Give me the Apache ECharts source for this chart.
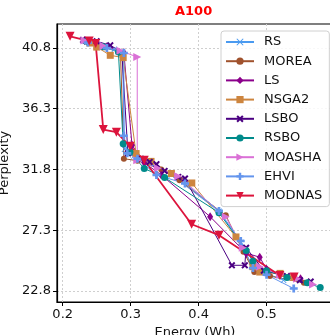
<!DOCTYPE html>
<html><head><meta charset="utf-8">
<script src="https://cdn.jsdelivr.net/npm/echarts@6/dist/echarts.min.js"></script>
<style>html,body{margin:0;padding:0;background:#fff}#c{width:330px;height:335px}</style>
</head><body><div id="c"></div>
<script>
const xTicks = [0.2, 0.3, 0.4, 0.5];
const yTicks = [22.8, 27.3, 31.8, 36.3, 40.8];

const RS = [[0.233,41.3],[0.252,41.0],[0.276,40.7],[0.288,40.4],[0.291,33.3],[0.305,32.8],[0.33,32.2],[0.36,31.4],[0.43,28.7],[0.462,26.4],[0.478,24.6],[0.5,24.1],[0.525,23.6]];
const MOREA = [[0.238,41.25],[0.262,40.85],[0.285,40.45],[0.29,32.6],[0.31,32.45],[0.345,31.8],[0.372,31.0],[0.44,28.4],[0.466,25.7],[0.482,24.2],[0.505,23.9],[0.555,23.4]];
const LS = [[0.232,41.35],[0.265,40.9],[0.29,40.45],[0.302,33.6],[0.32,32.3],[0.345,31.4],[0.417,28.3],[0.47,25.6],[0.49,25.3],[0.5,24.4],[0.52,24.0],[0.55,23.7]];
const NSGA2 = [[0.24,41.17],[0.25,40.87],[0.27,40.26],[0.289,40.09],[0.308,32.98],[0.33,32.4],[0.36,31.5],[0.39,30.8],[0.455,26.8],[0.48,24.6],[0.49,24.2],[0.52,24.1],[0.54,23.8]];
const LSBO = [[0.23,41.4],[0.25,41.3],[0.27,41.0],[0.287,40.5],[0.296,33.0],[0.315,32.6],[0.328,32.36],[0.338,32.19],[0.35,31.69],[0.37,31.25],[0.38,31.13],[0.449,24.7],[0.468,24.7],[0.47,26.0],[0.496,24.3],[0.53,23.9],[0.549,23.6],[0.565,23.5]];
const RSBO = [[0.235,41.3],[0.26,40.9],[0.282,40.5],[0.289,33.7],[0.299,33.1],[0.32,31.87],[0.35,31.2],[0.43,28.6],[0.47,25.8],[0.48,25.0],[0.5,24.3],[0.53,23.8],[0.56,23.4],[0.579,23.05]];
const MOASHA = [[0.232,41.35],[0.26,40.95],[0.285,40.6],[0.3097,40.13],[0.3097,32.48],[0.34,31.9],[0.37,31.3],[0.44,28.3],[0.465,26.0],[0.49,24.6],[0.52,24.0],[0.545,23.7],[0.5685,23.27]];
const EHVI = [[0.237,41.2],[0.265,40.8],[0.29,40.43],[0.29,34.3],[0.295,33.0],[0.31,32.6],[0.338,31.4],[0.38,30.76],[0.43,28.73],[0.462,26.5],[0.48,24.5],[0.5,24.0],[0.54,22.98]];
const MODNAS = [[0.2108,41.67],[0.239,41.32],[0.2485,41.13],[0.2597,34.76],[0.279,34.56],[0.299,33.52],[0.32,32.48],[0.3897,27.74],[0.43,26.93],[0.5196,23.95],[0.5406,23.84]];

const X_PATH = 'path://M1,0L5,4L9,0L10,1L6,5L10,9L9,10L5,6L1,10L0,9L4,5L0,1Z';
const XF_PATH = 'path://M2,0L5,3L8,0L10,2L7,5L10,8L8,10L5,7L2,10L0,8L3,5L0,2Z';
const TRI_R = 'path://M0,0L10,5L0,10Z';
const TRI_D = 'path://M0,0L10,0L5,10Z';
const PLUS = 'path://M3.3,0H6.7V3.3H10V6.7H6.7V10H3.3V6.7H0V3.3H3.3Z';

function mk(name, data, color, symbol, size, lw){
  return {name, type:'line', data, symbol, symbolSize:size, showSymbol:true,
    lineStyle:{color, width:lw}, itemStyle:{color, borderWidth:0}, animation:false, z:2};
}
const series = [
  mk('RS', RS, '#4a9af0', X_PATH, 6, 1),
  mk('MOREA', MOREA, '#a0522d', 'circle', 6, 1),
  mk('LS', LS, '#8b008b', 'diamond', [6,9], 1),
  mk('NSGA2', NSGA2, '#cd853f', 'rect', 7, 1),
  mk('LSBO', LSBO, '#4b0082', XF_PATH, 7, 1),
  mk('RSBO', RSBO, '#008b8b', 'circle', 7, 1),
  mk('MOASHA', MOASHA, '#da70d6', TRI_R, 8, 1),
  mk('EHVI', EHVI, '#6495ed', PLUS, 8, 1),
  mk('MODNAS', MODNAS, '#dc143c', TRI_D, 9, 1.8),
];

const ff = 'DejaVu Sans';
const chart = echarts.init(document.getElementById('c'), null, {renderer:'canvas'});
chart.setOption({
  backgroundColor:'#fff',
  animation:false,
  title:{text:'A100', left:175, top:5, padding:0, textStyle:{color:'#ff0000', fontFamily:ff, fontWeight:'bold', fontSize:13}},
  grid:{left:57, top:24, right:-3, bottom:33, show:true, borderColor:'#000', borderWidth:1.2, backgroundColor:'#fff', outerBoundsMode:'none', containLabel:false},
  xAxis:{type:'value', min:0.1916, max:0.5978,
    name:'Energy (Wh)', nameLocation:'middle', nameGap:20,
    nameTextStyle:{fontFamily:ff, fontSize:13, color:'#111'},
    axisLine:{show:true, onZero:false, lineStyle:{color:'#000', width:1.2}},
    axisTick:{show:true, length:4, customValues:xTicks, lineStyle:{color:'#000'}},
    axisLabel:{customValues:xTicks, margin:6, fontFamily:ff, fontSize:13, color:'#111', formatter:v=>v.toFixed(1)},
    splitLine:{show:true, lineStyle:{color:'#cfcfcf', type:[2,2], width:1}}
  },
  yAxis:{type:'value', min:21.98, max:42.58,
    name:'Perplexity', nameLocation:'middle', nameGap:38, nameRotate:90,
    nameTextStyle:{fontFamily:ff, fontSize:13, color:'#111'},
    axisLine:{show:true, onZero:false, lineStyle:{color:'#000', width:1.2}},
    axisTick:{show:true, length:4, customValues:yTicks, lineStyle:{color:'#000'}},
    axisLabel:{customValues:yTicks, margin:6, fontFamily:ff, fontSize:13, color:'#111', formatter:v=>v.toFixed(1)},
    splitLine:{show:true, lineStyle:{color:'#cfcfcf', type:[2,2], width:1}}
  },
  legend:{orient:'vertical', left:221, top:31, padding:[4,7,4,4],
    itemWidth:28, itemHeight:9, itemGap:5.2,
    backgroundColor:'rgba(255,255,255,0.85)', borderColor:'#d0d0d0', borderWidth:1, borderRadius:3,
    textStyle:{fontFamily:ff, fontSize:13, color:'#111', lineHeight:14, padding:[0,0,0,5]},
    data:['RS','MOREA','LS','NSGA2','LSBO','RSBO','MOASHA','EHVI','MODNAS']},
  series
});
</script></body></html>
